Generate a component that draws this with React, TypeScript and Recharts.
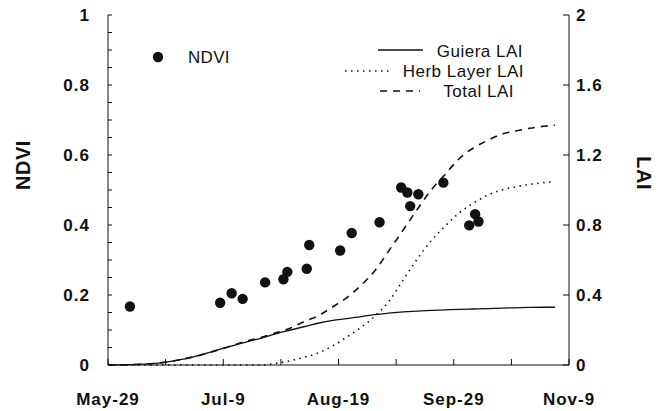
import React from 'react';
import { ComposedChart, Line, Scatter, XAxis, YAxis, Label } from 'recharts';

// days counted from May-29
const ndviDays = [7.8, 39.9, 44, 47.9, 55.9, 62.4, 63.8, 70.7, 71.6, 82.6, 86.7, 96.6, 104.3, 106.5, 107.5, 110.4, 119.3, 128.5, 130.6, 131.8];
const ndviValues = [0.167, 0.178, 0.205, 0.189, 0.236, 0.245, 0.266, 0.275, 0.343, 0.327, 0.377, 0.408, 0.507, 0.493, 0.454, 0.488, 0.521, 0.399, 0.431, 0.41];

const laiDays = [0, 10, 20, 30, 41, 50, 55, 60, 65, 70, 75, 80, 85, 90, 95, 100, 105, 110, 115, 120, 125, 130, 135, 140, 145, 150, 155, 159];
const guieraLai = [0, 0.003, 0.015, 0.045, 0.095, 0.135, 0.155, 0.18, 0.2, 0.22, 0.24, 0.255, 0.265, 0.277, 0.288, 0.297, 0.303, 0.308, 0.312, 0.315, 0.318, 0.32, 0.322, 0.325, 0.327, 0.329, 0.33, 0.33];
const herbLai = [0, 0, 0, 0, 0, 0, 0, 0.01, 0.025, 0.045, 0.07, 0.11, 0.16, 0.215, 0.28, 0.365, 0.486, 0.605, 0.71, 0.795, 0.87, 0.925, 0.97, 1.0, 1.018, 1.032, 1.042, 1.048];
const totalLai = [0, 0.003, 0.015, 0.045, 0.095, 0.14, 0.16, 0.185, 0.212, 0.25, 0.283, 0.333, 0.385, 0.455, 0.54, 0.655, 0.771, 0.889, 1.0, 1.09, 1.18, 1.24, 1.283, 1.318, 1.337, 1.353, 1.364, 1.37];

const xTicks = [0, 20.5, 41, 61.5, 82, 102.5, 123, 143.5, 164];
const xLabels: Record<number, string> = { 0: 'May-29', 41: 'Jul-9', 82: 'Aug-19', 123: 'Sep-29', 164: 'Nov-9' };
const ndviTicks = Array.from({ length: 21 }, (_, i) => i / 20);
const laiTicks = [0, 0.4, 0.8, 1.2, 1.6, 2];

const ink = '#111';
const font = 'Arial, "Liberation Sans", sans-serif';

export default function App() {
  const laiData = laiDays.map((day, i) => ({
    day,
    guiera: guieraLai[i],
    herb: herbLai[i],
    total: totalLai[i],
  }));
  const ndviData = ndviDays.map((day, i) => ({ day, ndvi: ndviValues[i] }));

  const tickStyle = { fontSize: 17, fontWeight: 700, fill: ink, fontFamily: font, letterSpacing: 1 };
  const titleStyle = { fontSize: 20, fontWeight: 700, fill: ink, fontFamily: font, letterSpacing: 0.5 };

  const ndviFmt = (v: number) => {
    const r = Math.round(v * 100);
    if (r % 20 !== 0) return '';
    return r === 0 ? '0' : r === 100 ? '1' : String(r / 100);
  };

  return (
    <div style={{ position: 'absolute', left: 0, top: 0, width: 659, height: 411, background: '#fff' }}>
      <ComposedChart width={659} height={411} data={laiData} margin={{ top: 15, right: 0, bottom: 0, left: 0 }}>
        <XAxis
          dataKey="day"
          type="number"
          domain={[0, 164]}
          ticks={xTicks}
          tickFormatter={(v: number) => xLabels[v] ?? ''}
          tickSize={-6}
          tickMargin={34}
          height={46}
          tick={tickStyle}
          stroke={ink}
          interval={0}
        />
        <XAxis
          xAxisId="top"
          orientation="top"
          dataKey="day"
          type="number"
          domain={[0, 164]}
          ticks={xTicks}
          tickFormatter={() => ''}
          tickSize={-6}
          height={0}
          stroke={ink}
          interval={0}
        />
        <YAxis
          yAxisId="left"
          type="number"
          domain={[0, 1]}
          ticks={ndviTicks}
          tickFormatter={ndviFmt}
          tickSize={-4}
          tickMargin={22}
          width={108}
          tick={tickStyle}
          stroke={ink}
          interval={0}
        >
          <Label value="NDVI" angle={-90} position="insideLeft" offset={23} style={titleStyle} />
        </YAxis>
        <YAxis
          yAxisId="right"
          orientation="right"
          type="number"
          domain={[0, 2]}
          ticks={laiTicks}
          tickFormatter={(v: number) => (v === 0 ? '0' : v === 2 ? '2' : String(v))}
          tickSize={-6}
          tickMargin={13}
          width={90}
          tick={tickStyle}
          stroke={ink}
          interval={0}
        >
          <Label value="LAI" angle={90} position="insideRight" offset={15} style={titleStyle} />
        </YAxis>
        <Line yAxisId="right" dataKey="guiera" type="monotone" stroke={ink} strokeWidth={1.3} dot={false} isAnimationActive={false} />
        <Line yAxisId="right" dataKey="herb" type="monotone" stroke={ink} strokeWidth={1.6} strokeDasharray="1.5 4.5" dot={false} isAnimationActive={false} />
        <Line yAxisId="right" dataKey="total" type="monotone" stroke={ink} strokeWidth={1.6} strokeDasharray="7 6" dot={false} isAnimationActive={false} />
        <Scatter
          yAxisId="left"
          data={ndviData}
          dataKey="ndvi"
          fill={ink}
          shape={(p: any) => <circle cx={p.cx} cy={p.cy} r={5.2} fill={ink} />}
          isAnimationActive={false}
        />
      </ComposedChart>
      <svg width={659} height={411} style={{ position: 'absolute', left: 0, top: 0, pointerEvents: 'none' }}>
        <circle cx={158} cy={57} r={5.2} fill={ink} />
        <text x={188} y={63} fontSize={17} fontFamily={font} fill={ink} letterSpacing={0.3}>NDVI</text>
        <line x1={378} y1={50} x2={423} y2={50} stroke={ink} strokeWidth={1.3} />
        <text x={523} y={57} fontSize={17} fontFamily={font} fill={ink} textAnchor="end" letterSpacing={0.5}>Guiera  LAI</text>
        <line x1={345} y1={71} x2={390} y2={71} stroke={ink} strokeWidth={1.6} strokeDasharray="1.5 4.5" />
        <text x={524} y={77} fontSize={17} fontFamily={font} fill={ink} textAnchor="end" letterSpacing={0.5}>Herb Layer LAI</text>
        <line x1={380} y1={91} x2={420} y2={91} stroke={ink} strokeWidth={1.6} strokeDasharray="7 6" />
        <text x={514} y={97} fontSize={17} fontFamily={font} fill={ink} textAnchor="end" letterSpacing={0.5}>Total  LAI</text>
      </svg>
    </div>
  );
}
